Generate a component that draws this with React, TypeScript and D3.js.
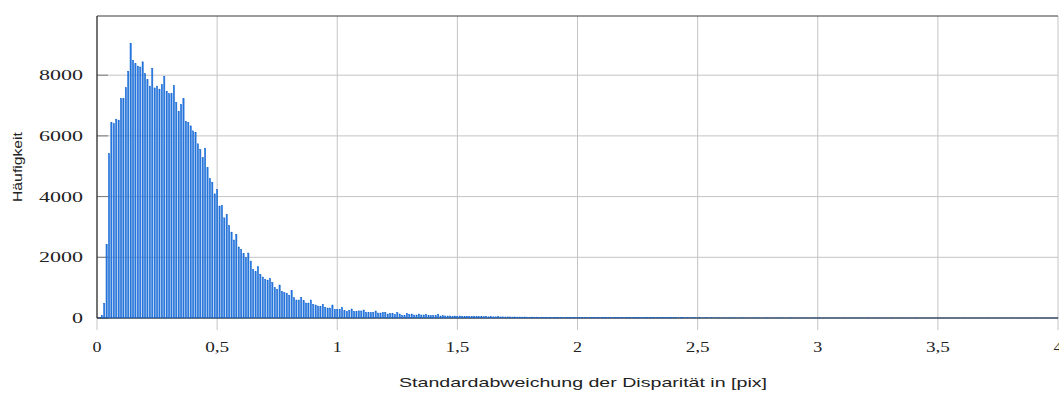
import React from "react";
import * as d3 from "d3";

// histogram bin centres are k * 0.01, k = 0..400
const binWidth = 0.01;
const countsHead = [
  0, 5, 90, 483, 2424, 5420, 6440, 6400, 6550, 6520,
  7230, 7240, 7590, 8130, 9050, 8490, 8380, 8300, 8270, 8440,
  8050, 7850, 7640, 8230, 7580, 7640, 7540, 7690, 7960, 7470,
  7390, 7390, 7660, 7100, 6810, 7040, 7230, 6480, 6440, 6330,
  6165, 6120, 5740, 5550, 5280, 5595, 4950, 4600, 4475, 4090,
  4235, 3690, 3710, 3300, 3410, 3040, 2830, 2570, 2760, 2340,
  2260, 2130, 1990, 2140, 1875, 1600, 1525, 1690, 1440, 1350,
  1270, 1250, 1306, 1170, 998, 943, 1086, 877, 834, 812,
  746, 900, 669, 592, 592, 680, 570, 494, 494, 592,
  450, 428, 395, 373, 450, 351, 329, 329, 428, 285,
  285, 285, 351, 241, 219, 252, 296, 219, 219, 236,
  230, 263, 187, 187, 176, 187, 230, 165, 165, 187,
  187, 132, 154, 154, 110, 176, 132, 88, 88, 154,
  115, 132, 99, 99, 132, 99, 99, 121, 88, 77,
  77, 77, 121, 66, 77, 66, 66, 66, 55, 66,
  55, 66, 55, 55, 55,
];
const countsMid = [
  52, 48, 55, 44, 47, 50, 41, 45, 39, 43, 40, 37, 42, 35, 38, 33, 36, 34, 31, 35,
  30, 32, 29, 33, 28, 27, 30, 26, 28, 25, 27, 24, 26, 23, 25, 22, 24, 21, 23, 20,
  22, 19, 21, 20, 18,
  19, 17, 18, 16, 19, 15, 17, 16, 14, 16, 15, 13, 15, 14, 12, 14, 13, 12, 13, 11,
  13, 12, 11, 12, 10, 11, 12, 10, 11, 9, 10, 11, 9, 10, 9, 8, 10, 9, 8, 9,
  8, 9, 7, 8, 9, 7, 8, 7, 8, 7,
];
const countsTail = [
  7, 8, 6, 7, 7, 6, 8, 6, 7, 6, 6, 7, 5, 6, 6, 5, 7, 5, 6, 5,
  5, 6, 5, 4, 6, 5, 5, 4, 5, 5, 4, 5, 4, 4, 5, 4, 4, 3, 5, 4,
  4, 3, 4, 4, 3, 4, 3, 4, 3, 3,
  3, 4, 3, 3, 2, 3, 3, 4, 2, 3, 3, 2, 3, 2, 3, 3, 2, 2, 3, 2,
  2, 3, 2, 2, 2, 3, 2, 2, 1, 2, 2, 2, 1, 2, 2, 1, 2, 2, 1, 2,
  1, 2, 1, 2, 2, 1, 1, 2, 1, 1, 2, 1, 1, 1, 2, 1, 1, 1, 2, 1,
  1, 1, 1, 2, 1, 1, 1, 1, 1, 2, 1, 1, 1, 1, 1, 1, 1, 1, 1, 1,
  1, 1, 1, 1, 1, 1, 1, 1, 1, 1, 1, 1, 1, 1, 1, 1, 1, 1, 1, 1,
  1,
];
const counts = [...countsHead, ...countsMid, ...countsTail];

const xTicks = [0, 0.5, 1, 1.5, 2, 2.5, 3, 3.5, 4];
const xTickLabels = ["0", "0,5", "1", "1,5", "2", "2,5", "3", "3,5", "4"];
const yTicks = [0, 2000, 4000, 6000, 8000];
const yTickLabels = ["0", "2000", "4000", "6000", "8000"];
const xLabel = "Standardabweichung der Disparität in [pix]";
const yLabel = "Häufigkeit";

const W = 1059;
const H = 396;
const plot = { left: 97, right: 1058, top: 16, bottom: 318 };

export default function App() {
  const x = d3.scaleLinear().domain([0, 4]).range([plot.left, plot.right]);
  const y = d3.scaleLinear().domain([0, 9950]).range([plot.bottom, plot.top]);
  const barW = 1.25;
  const serif = "'Liberation Serif', 'DejaVu Serif', serif";
  const sans = "'Liberation Sans', 'DejaVu Sans', sans-serif";
  return (
    <svg
      width={W}
      height={H}
      style={{ position: "absolute", left: 0, top: 0, background: "#fff" }}
    >
      {/* grid */}
      {yTicks.map((t) => (
        <line key={"gy" + t} x1={plot.left} x2={plot.right} y1={y(t)} y2={y(t)} stroke="#c4c4c4" strokeWidth={1} />
      ))}
      {xTicks.map((t) => (
        <line key={"gx" + t} x1={x(t)} x2={x(t)} y1={plot.top} y2={plot.bottom + 12} stroke="#c4c4c4" strokeWidth={1} />
      ))}
      {/* y ticks inward */}
      {yTicks.map((t) => (
        <line key={"ty" + t} x1={plot.left} x2={plot.left + 11} y1={y(t)} y2={y(t)} stroke="#7a7a7a" strokeWidth={1} />
      ))}
      {/* axis lines */}
      <line x1={plot.left} x2={plot.right} y1={plot.top} y2={plot.top} stroke="#3a3a3a" strokeWidth={1.2} />
      <line x1={plot.left} x2={plot.left} y1={plot.top} y2={plot.bottom} stroke="#2a2a2a" strokeWidth={1.2} />
      <line x1={plot.left} x2={plot.right} y1={plot.bottom} y2={plot.bottom} stroke="#111" strokeWidth={1} />
      {/* bars */}
      {counts.map((c, k) => {
        const cx = x(k * binWidth);
        const top = y(c);
        return (
          <rect
            key={"b" + k}
            x={cx - barW / 2}
            y={top}
            width={barW}
            height={Math.max(0, plot.bottom - top)}
            fill="#2a7adf"
            stroke="#0a5fd0"
            strokeWidth={0.45}
          />
        );
      })}
      {/* tick labels */}
      {xTicks.map((t, i) => (
        <text
          key={"lx" + t}
          x={x(t)}
          y={352}
          textAnchor="middle"
          fontFamily={serif}
          fontSize={15}
          fill="#222"
          textLength={xTickLabels[i].length === 1 ? 9 : 24}
          lengthAdjust="spacingAndGlyphs"
        >
          {xTickLabels[i]}
        </text>
      ))}
      {yTicks.map((t, i) => (
        <text
          key={"ly" + t}
          x={83}
          y={y(t) + 5}
          textAnchor="end"
          fontFamily={serif}
          fontSize={15}
          fill="#222"
          textLength={yTickLabels[i].length * 11}
          lengthAdjust="spacingAndGlyphs"
        >
          {yTickLabels[i]}
        </text>
      ))}
      {/* axis labels */}
      <text
        x={583}
        y={387}
        textAnchor="middle"
        fontFamily={sans}
        fontSize={13}
        fill="#222"
        textLength={368}
        lengthAdjust="spacingAndGlyphs"
      >
        {xLabel}
      </text>
      <text
        transform={`translate(22,167) rotate(-90)`}
        textAnchor="middle"
        fontFamily={sans}
        fontSize={13}
        fill="#222"
        textLength={70}
        lengthAdjust="spacingAndGlyphs"
      >
        {yLabel}
      </text>
    </svg>
  );
}
